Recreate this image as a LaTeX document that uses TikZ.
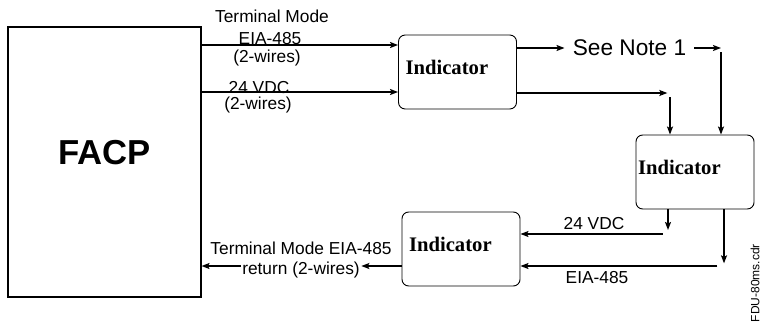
\documentclass[tikz,border=0pt]{standalone}
\usepackage{fontspec}
\setmainfont{Liberation Sans}
\newfontfamily\indfont{Liberation Serif}
\usepackage{tikz}
\usetikzlibrary{positioning}
\usetikzlibrary{arrows.meta}

\begin{document}
\begin{tikzpicture}[x=0.75pt,y=-0.75pt,
        wire/.style={line width=1.1pt,-{Stealth[length=6pt,width=4.5pt,inset=1.2pt]}},
        lbl/.style={font=\fontsize{13}{14}\selectfont,inner sep=1pt},
        ind/.style={draw,line width=0.7pt,rounded corners=5pt,minimum width=88.5pt,minimum height=55.5pt,
            text width=78pt,inner xsep=5.25pt,align=left,text depth=7.5pt,
            font=\indfont\bfseries\fontsize{15.5}{16}\selectfont}]
    \useasboundingbox (0,0) rectangle (762,325);
    % panel and indicators
    \node[draw,line width=0.8pt,minimum width=144.75pt,minimum height=202.5pt,text depth=15pt,
        font=\bfseries\fontsize{26}{28}\selectfont] (facp) at (104.5,162) {FACP};
    \node[ind] (ind1) at (457.5,72) {Indicator};
    \node[ind,inner xsep=1.5pt,text width=85.5pt] (ind2) at (695,172) {Indicator};
    \node[ind] (ind3) at (461,249) {Indicator};
    % top wires
    \draw[wire] (facp.east |- 0,45) -- (ind1.west |- 0,45);
    \draw[wire] (facp.east |- 0,92) -- (ind1.west |- 0,92);
    \node[lbl] (tm1) at (272,16.5) {Terminal Mode};
    \node[lbl] (eia1) at (270,39) {EIA-485};
    \node[lbl] (tw1) at (267,58) {(2-wires)};
    \node[lbl] (vdc1) at (259,88) {24 VDC};
    \node[lbl] (tw2) at (258,105) {(2-wires)};
    % to second indicator
    \node[font=\fontsize{17}{18}\selectfont,inner xsep=6pt] (note) at (629.5,48) {See Note 1};
    \coordinate (c1) at (721,48);
    \coordinate (c2) at (670,93);
    \draw[wire] (ind1.east |- note) -- (note.west);
    \draw[wire] (note.east) -- (c1);
    \draw[wire] ([yshift=-3pt]c1) -- (c1 |- ind2.north);
    \draw[wire] (ind1.east |- c2) -- ([xshift=-2pt]c2);
    \draw[wire] ([yshift=-3pt]c2) -- (c2 |- ind2.north);
    % back to third indicator
    \coordinate (c3) at (668,234);
    \coordinate (c4) at (724,266);
    \draw[wire] (c3 |- ind2.south) -- ([yshift=3pt]c3);
    \draw[wire] ([xshift=-4pt]c3) -- (ind3.east |- c3);
    \draw[wire] (c4 |- ind2.south) -- ([yshift=2pt]c4);
    \draw[wire] ([xshift=-5pt]c4) -- (ind3.east |- c4);
    \node[lbl] (vdc2) at (594,224) {24 VDC};
    \node[lbl] (eia2) at (597,278) {EIA-485};
    % return to panel
    \node[lbl] (tm2) at (301,248.5) {Terminal Mode EIA-485};
    \node[lbl] (ret) at (301,270) {return (2-wires)};
    \draw[wire] (ind3.west |- 0,266) -- (ret.east |- 0,266);
    \draw[wire] (ret.west |- 0,266) -- (facp.east |- 0,266);
    \node[rotate=90,font=\fontsize{9}{10}\selectfont] (fdu) at (755,283) {FDU-80ms.cdr};
\end{tikzpicture}
\end{document}
